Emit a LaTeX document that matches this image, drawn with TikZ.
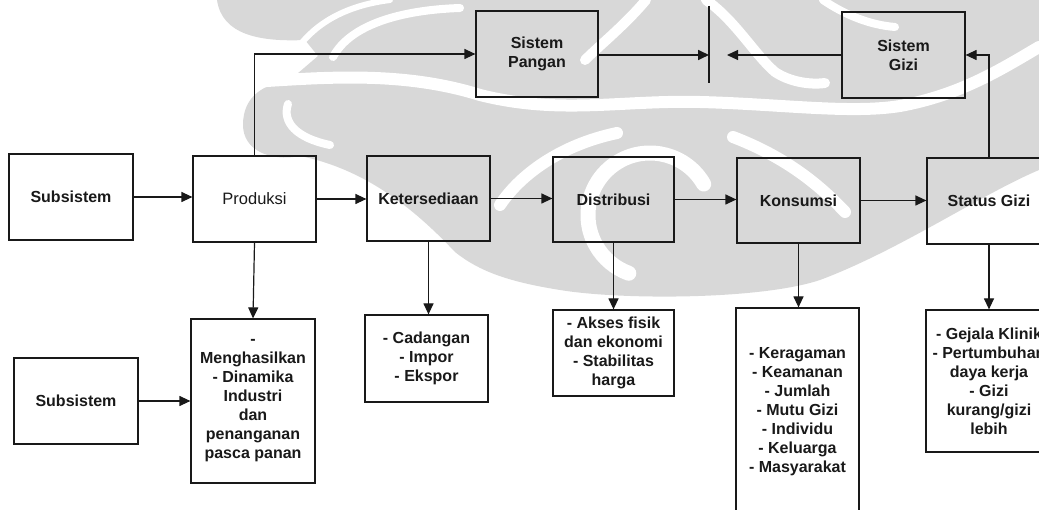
\documentclass[tikz,border=0pt]{standalone}
\usepackage{fontspec}
\setmainfont{Liberation Sans}
\usetikzlibrary{arrows.meta}
\definecolor{wm}{RGB}{216,216,216}
\definecolor{ink}{RGB}{25,25,25}
\tikzset{
  box/.style={draw=ink, line width=1.2pt, inner sep=0pt, align=center,
    font=\fontsize{16}{19}\selectfont\bfseries, text=ink},
  lightbox/.style={box, font=\fontsize{16.5}{19}\selectfont},
  flow/.style={draw=ink, line width=1.2pt, -{Triangle[length=11pt,width=10pt]}},
  band/.style={white, line width=#1, line cap=round},
  band/.default=11pt,
}
\begin{document}
\begin{tikzpicture}[x=1pt,y=-1pt]
\useasboundingbox (0,0) rectangle (1039,510);
\clip (0,0) rectangle (1039,510);

% background emblem: grey body
\fill[wm] (217,0) -- (1039,0) -- (1039,170)
  .. controls (980,195) and (900,250) .. (820,280)
  .. controls (760,300) and (620,300) .. (560,290)
  .. controls (510,282) and (480,272) .. (455,252)
  .. controls (420,215) and (370,170) .. (300,156)
  .. controls (270,162) and (243,150) .. (243,125)
  .. controls (243,95) and (265,84) .. (290,80)
  -- (318,56) -- (305,40)
  .. controls (260,42) and (222,35) .. (217,0) -- cycle;
% background emblem: white strokes
\draw[band=12pt] (250,82) .. controls (320,78) and (400,70) .. (480,95)
  .. controls (560,115) and (620,100) .. (700,102)
  .. controls (780,104) and (850,114) .. (900,106)
  .. controls (960,95) and (1000,70) .. (1039,47);
\draw[band=6pt] (300,45) .. controls (320,20) and (350,5) .. (390,0);
\draw[band=8pt] (333,57) .. controls (350,25) and (400,10) .. (460,8);
\draw[band=8pt] (288,104) .. controls (282,122) and (296,138) .. (330,145);
\draw[band=10pt] (646,0) .. controls (625,25) and (600,45) .. (585,60);
\draw[band=10pt] (706,0) .. controls (735,20) and (755,55) .. (775,72)
  .. controls (790,82) and (810,85) .. (825,83);
\draw[band=8pt] (823,0) .. controls (845,15) and (870,25) .. (895,27);
\draw[band=12pt] (500,205) .. controls (520,175) and (560,145) .. (617,133);
\draw[band=15pt] (650,215) ++(-30:62) arc[start angle=-30, end angle=-250, radius=62];
\draw[band=12pt] (733,137) .. controls (780,155) and (815,180) .. (845,212);

% main chain
\node[box, minimum width=124pt, minimum height=86pt] (sub1) at (71,197) {Subsistem};
\node[lightbox, minimum width=123pt, minimum height=86pt] (prod) at (254.5,199) {Produksi};
\node[box, minimum width=123pt, minimum height=85pt] (ket) at (428.5,198.5) {Ketersediaan};
\node[box, minimum width=121pt, minimum height=85pt] (dist) at (613.5,199.5) {Distribusi};
\node[box, minimum width=123pt, minimum height=85pt] (kons) at (798.5,200.5) {Konsumsi};
\node[box, minimum width=124pt, minimum height=86pt] (stat) at (989,201) {Status Gizi};

% upper systems
\node[box, minimum width=122pt, minimum height=86pt] (pangan) at (537,54) {Sistem\\Pangan};
\node[box, minimum width=123pt, minimum height=86pt] (gizi) at (903.5,55) {Sistem\\Gizi};
\coordinate (bartop) at (709,6);
\coordinate (barbot) at (709,83);
\coordinate (barin) at (709,55);
\coordinate (barout) at (727,55);
\draw[ink, line width=1.6pt] (bartop) -- (barbot);

% detail boxes
\node[box, minimum width=124pt, minimum height=86pt] (sub2) at (76,401) {Subsistem};
\node[box, minimum width=124pt, minimum height=164pt] (dprod) at (253,401)
  {-\\Menghasilkan\\- Dinamika\\Industri\\dan\\penanganan\\pasca panan};
\node[box, minimum width=123pt, minimum height=87pt] (dket) at (426.5,358.5)
  {- Cadangan\\- Impor\\- Ekspor};
\node[box, minimum width=121pt, minimum height=86pt] (ddist) at (613.5,353)
  {- Akses fisik\\dan ekonomi\\- Stabilitas\\harga};
\node[box, minimum width=123pt, minimum height=208pt] (dkons) at (797.5,412)
  {- Keragaman\\- Keamanan\\- Jumlah\\- Mutu Gizi\\- Individu\\- Keluarga\\- Masyarakat};
\node[box, minimum width=126pt, minimum height=142pt] (dstat) at (989,381)
  {- Gejala Klinik\\- Pertumbuhan\\daya kerja\\- Gizi\\kurang/gizi\\lebih};

% connectors along the chain
\draw[flow] (sub1.east) -- (sub1.east -| prod.west);
\draw[flow] (prod.east) -- (prod.east -| ket.west);
\draw[flow] (ket.east) -- (ket.east -| dist.west);
\draw[flow] (dist.east) -- (dist.east -| kons.west);
\draw[flow] (kons.east) -- (kons.east -| stat.west);
\draw[flow] (sub2.east) -- (sub2.east -| dprod.west);

% connectors down to the details
\draw[flow] (prod.south) -- (dprod.north);
\draw[flow] (ket.south) -- (ket.south |- dket.north);
\draw[flow] (dist.south) -- (ddist.north);
\draw[flow] (kons.south) -- (kons.south |- dkons.north);
\draw[flow] (stat.south) -- (dstat.north);

% connectors to the upper systems
\draw[flow] (prod.north) |- (pangan.west);
\draw[flow] (stat.north) |- (gizi.east);
\draw[flow, line width=1.7pt] (pangan.east |- barin) -- (barin);
\draw[flow] (gizi.west) -- (barout);
\end{tikzpicture}
\end{document}
